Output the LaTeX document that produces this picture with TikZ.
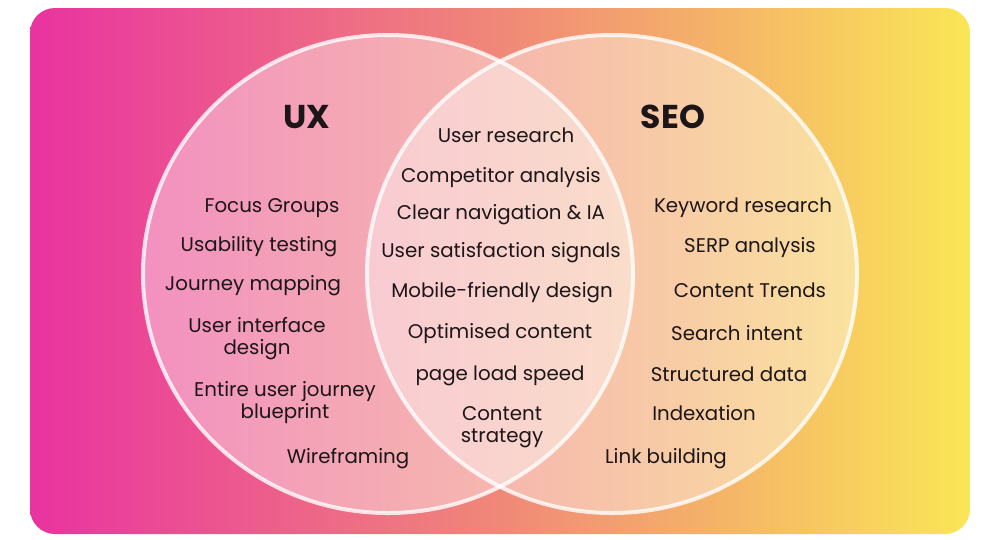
\documentclass[tikz,border=0pt]{standalone}
\usepackage{fontspec}
\setmainfont{Poppins}
\usepackage{xcolor}
\usepackage{tikz}

\definecolor{ink}{RGB}{28,22,24}
\definecolor{gradL}{RGB}{233,51,160}
\definecolor{gradM}{RGB}{240,136,120}
\definecolor{gradR}{RGB}{250,230,86}
\pgfdeclarehorizontalshading{bgshade}{100bp}{color(0bp)=(gradL); color(25bp)=(gradL); color(50bp)=(gradM); color(75bp)=(gradR); color(100bp)=(gradR)}

\begin{document}
\begin{tikzpicture}[
          x=1pt, y=-1pt,
          item/.style={font=\fontsize{19.8}{22}\selectfont, align=center, text=ink, inner sep=0pt},
          title/.style={font=\fontsize{33}{36}\selectfont\bfseries, text=ink, inner sep=0pt},
          circ/.style={fill=white, fill opacity=0.4, draw=white, draw opacity=0.8, line width=4pt}
        ]
          \useasboundingbox (0,0) rectangle (1000,539);
          \shade[shading=bgshade, rounded corners=25pt] (30,8) rectangle (970,534);

          % the two sets
          \draw[circ] (388,274) ellipse [x radius=245, y radius=239];
          \draw[circ] (612,274) ellipse [x radius=245, y radius=239];

          \node[title] (ux) at (307,117) {UX};
          \node[title] (seo) at (673,117) {SEO};

          % UX only
          \node[item] (focus) at (272,208) {Focus Groups};
          \node[item] (usab) at (259,247) {Usability testing};
          \node[item] (journey) at (253,286) {Journey mapping};
          \node[item] (uidesign) at (257,339) {User interface\\design};
          \node[item] (blueprint) at (285,403) {Entire user journey\\blueprint};
          \node[item] (wire) at (348,459) {Wireframing};

          % both
          \node[item] (research) at (506,135) {User research};
          \node[item] (compet) at (501,178) {Competitor analysis};
          \node[item] (nav) at (501,215) {Clear navigation \& IA};
          \node[item] (satisf) at (501,253) {User satisfaction signals};
          \node[item] (mobile) at (502,293) {Mobile-friendly design};
          \node[item] (optim) at (500,334) {Optimised content};
          \node[item] (speed) at (500,376) {page load speed};
          \node[item] (strategy) at (502,427) {Content\\strategy};

          % SEO only
          \node[item] (keyword) at (743,208) {Keyword research};
          \node[item] (serp) at (750,248) {SERP analysis};
          \node[item] (trends) at (750,290) {Content Trends};
          \node[item] (intent) at (737,333) {Search intent};
          \node[item] (struct) at (729,374) {Structured data};
          \node[item] (index) at (704,413) {Indexation};
          \node[item] (links) at (666,459) {Link building};
        \end{tikzpicture}
\end{document}
